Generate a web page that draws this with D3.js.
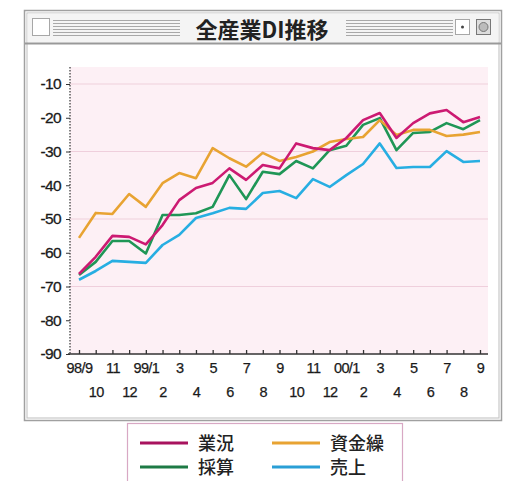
<!DOCTYPE html>
<html>
<head>
<meta charset="utf-8">
<script src="https://cdn.jsdelivr.net/npm/d3@7"></script>
<style>
  body { margin: 0; background: #fff; }
  svg { display: block; font-family: "Liberation Sans", Arial, sans-serif; }
</style>
</head>
<body>
<script>
const months = ["98/9","10","11","12","99/1","2","3","4","5","6","7","8",
                "9","10","11","12","00/1","2","3","4","5","6","7","8","9"];
const gyoukyou = [-66.3,-61.2,-55,-55.3,-57.5,-51.8,-44.4,-40.8,-39.3,-35,-38.4,-34,
                  -35,-27.6,-29,-29.6,-26,-20.7,-18.6,-26,-21.6,-18.7,-17.7,-21.3,-19.8];
const shikinguri = [-55.6,-48.2,-48.5,-42.6,-46.4,-39.4,-36.4,-37.9,-29,-32,-34.5,-30.4,
                    -32.8,-31.6,-30,-27.2,-26.3,-25.7,-20.7,-25.1,-23.6,-23.6,-25.4,-25,-24.2];
const saisan = [-66.6,-62.7,-56.5,-56.5,-60.2,-48.8,-48.8,-48.3,-46.4,-37,-44.1,-36,
                -36.7,-32.8,-35,-29.6,-28.3,-22.1,-20.1,-29.6,-24.5,-24.2,-21.6,-23.4,-20.7];
const uriage = [-68,-65.4,-62.4,-62.7,-63,-57.7,-54.7,-49.7,-48.3,-46.7,-47,-42.3,
                -41.7,-43.8,-38.2,-40.5,-37,-33.7,-27.6,-34.9,-34.6,-34.6,-29.9,-33.1,-32.8];
const yTicks = [-10,-20,-30,-40,-50,-60,-70,-80,-90];
const gridVals = [-10,-30,-50,-70];

const series = [
  {name: "業況", values: gyoukyou, color: "#cc1a72", legend: "#a8135e"},
  {name: "資金繰", values: shikinguri, color: "#e8a332", legend: "#e8a332"},
  {name: "採算", values: saisan, color: "#1f9656", legend: "#1d7a45"},
  {name: "売上", values: uriage, color: "#27aee2", legend: "#2a9fd6"}
];

const W = 512, H = 481;
const svg = d3.select("body").append("svg").attr("width", W).attr("height", H);

// window frame (double grey border)
svg.append("rect").attr("x", 24.5).attr("y", 10.5).attr("width", 477).attr("height", 410)
   .attr("fill", "#fff").attr("stroke", "#a0a0a0").attr("stroke-width", 1.5);
svg.append("rect").attr("x", 27).attr("y", 13).attr("width", 472).attr("height", 405)
   .attr("fill", "none").attr("stroke", "#c8c8c8").attr("stroke-width", 1.2);
svg.append("rect").attr("x", 27.5).attr("y", 13.5).attr("width", 471).attr("height", 29)
   .attr("fill", "#f4f4f4");
svg.append("line").attr("x1", 25).attr("x2", 501).attr("y1", 43.5).attr("y2", 43.5)
   .attr("stroke", "#999").attr("stroke-width", 1.8);

// title bar stripes
[[53, 180], [346, 453]].forEach(function(seg) {
  for (let k = 0; k < 6; k++) {
    svg.append("line").attr("x1", seg[0]).attr("x2", seg[1])
       .attr("y1", 20.5 + k * 3).attr("y2", 20.5 + k * 3)
       .attr("stroke", "#a8a8a8").attr("stroke-width", 1);
  }
});
svg.append("rect").attr("x", 32.5).attr("y", 18.5).attr("width", 17).attr("height", 17)
   .attr("fill", "#fff").attr("stroke", "#555").attr("stroke-dasharray", "1,1");
svg.append("rect").attr("x", 455.5).attr("y", 19.5).attr("width", 14).attr("height", 15)
   .attr("fill", "#fff").attr("stroke", "#555").attr("stroke-dasharray", "1,1");
svg.append("circle").attr("cx", 462.5).attr("cy", 27).attr("r", 1.5).attr("fill", "#444");
svg.append("rect").attr("x", 476.5).attr("y", 19.5).attr("width", 14).attr("height", 15)
   .attr("fill", "#ddd").attr("stroke", "#777");
svg.append("circle").attr("cx", 483.5).attr("cy", 27).attr("r", 4.5)
   .attr("fill", "#bbb").attr("stroke", "#777");
svg.append("text").attr("x", 262).attr("y", 38).attr("text-anchor", "middle")
   .attr("font-family", "'Noto Sans CJK JP', sans-serif").attr("font-weight", "bold")
   .attr("font-size", 22).attr("fill", "#222").text("全産業DI推移");

// plot
const plotL = 70, plotR = 488, plotT = 67, plotB = 354;
const x = d3.scalePoint().domain(d3.range(months.length)).range([79, 480]);
const y = d3.scaleLinear().domain([-10, -90]).range([84, 354]);

svg.append("rect").attr("x", plotL).attr("y", plotT).attr("width", plotR - plotL)
   .attr("height", plotB - plotT).attr("fill", "#fdf0f5");

svg.selectAll(".grid").data(gridVals).enter().append("line")
   .attr("x1", plotL).attr("x2", plotR)
   .attr("y1", d => y(d)).attr("y2", d => y(d))
   .attr("stroke", "#efcfdc").attr("stroke-width", 1.2);

// y axis (dotted)
svg.append("line").attr("x1", plotL).attr("x2", plotL).attr("y1", plotT).attr("y2", plotB)
   .attr("stroke", "#333").attr("stroke-width", 1.2).attr("stroke-dasharray", "1.5,1.5");
const yAxis = svg.append("g").attr("transform", "translate(" + plotL + ",0)")
   .call(d3.axisLeft(y).tickValues(yTicks).tickSize(4).tickPadding(5).tickFormat(d => d));
yAxis.select(".domain").remove();
yAxis.selectAll("text").attr("font-size", 15.5).attr("fill", "#1a1a1a")
   .attr("letter-spacing", "-0.6").attr("stroke", "#1a1a1a").attr("stroke-width", 0.3);
yAxis.selectAll("line").attr("stroke", "#333");

// x axis
const xAxis = svg.append("g").attr("transform", "translate(0," + plotB + ")")
   .call(d3.axisBottom(x).tickSize(-4).tickFormat(""));
xAxis.select(".domain").attr("d", "M" + (plotL - 2) + ",0H" + plotR).attr("stroke", "#333")
   .attr("stroke-width", 1.5);
xAxis.selectAll(".tick line").attr("stroke", "#333").attr("stroke-width", 1.3);
xAxis.selectAll(".tick").append("text")
   .attr("y", (d, i) => i % 2 === 0 ? 19 : 43)
   .attr("fill", "#1a1a1a").attr("font-size", 14.5).attr("letter-spacing", "-0.6")
   .attr("stroke", "#1a1a1a").attr("stroke-width", 0.25)
   .attr("text-anchor", "middle")
   .text((d, i) => months[i]);

// lines
const line = d3.line().x((d, i) => x(i)).y(d => y(d));
series.slice().reverse().forEach(function(s) {
  svg.append("path").datum(s.values).attr("d", line)
     .attr("fill", "none").attr("stroke", s.color).attr("stroke-width", 2.6)
     .attr("stroke-linejoin", "round");
});

// legend
svg.append("rect").attr("x", 127.5).attr("y", 423.5).attr("width", 275).attr("height", 70)
   .attr("fill", "#fff").attr("stroke", "#d8a8c4").attr("stroke-width", 1.2);
const lg = svg.selectAll(".lg").data(series).enter().append("g")
   .attr("transform", (d, i) => "translate(" + (i % 2 === 0 ? 140 : 272) + "," + (i < 2 ? 443 : 467) + ")");
lg.append("line").attr("x1", 0).attr("x2", 48).attr("stroke", d => d.legend).attr("stroke-width", 3);
lg.append("text").attr("x", 58).attr("y", 7).attr("font-size", 18)
   .attr("font-family", "'Noto Sans CJK JP', sans-serif").attr("font-weight", 500)
   .attr("fill", "#222")
   .text(d => d.name);
</script>
</body>
</html>
